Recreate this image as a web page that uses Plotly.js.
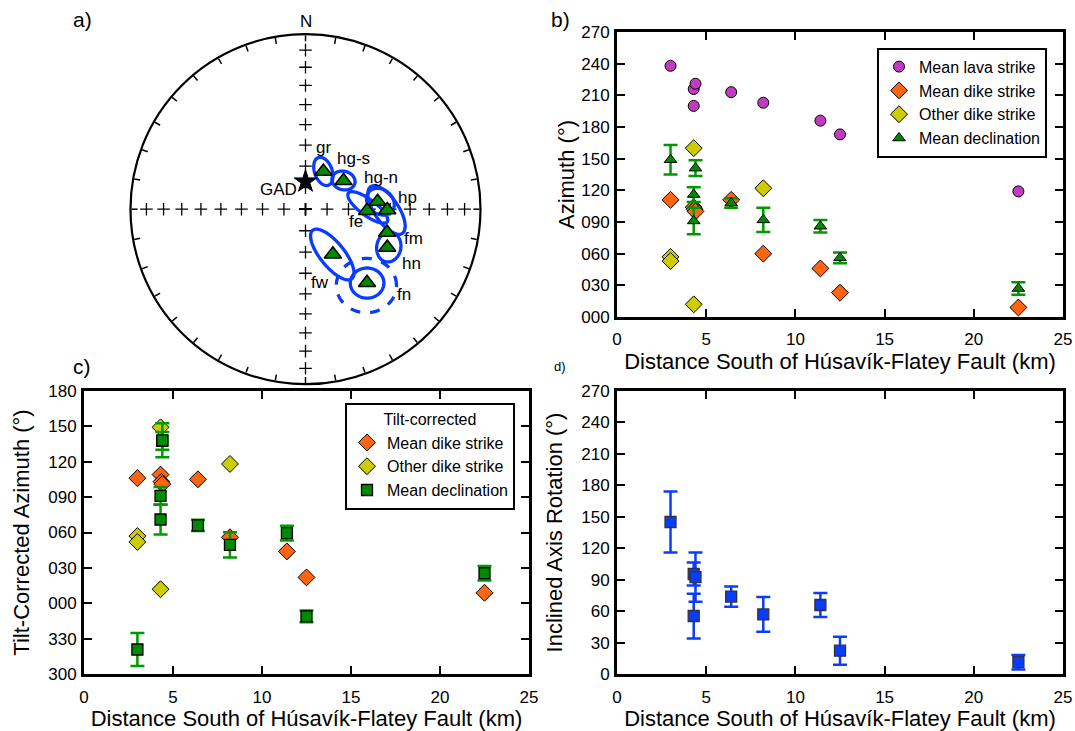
<!DOCTYPE html>
<html><head><meta charset="utf-8">
<script src="https://cdn.plot.ly/plotly-3.0.1.min.js"></script>
<style>html,body{margin:0;padding:0;background:#fff}#chart{width:1075px;height:731px}</style>
</head><body><div id="chart"></div>
<script>
// ===== Panel a: equal-area stereonet (declination / inclination in degrees)
const siteNames = ['gr','hg-s','hg-n','hp','fe','fm','hn','fw','fn'];
const siteDec = [25.4, 53.3, 84.0, 90.6, 91.4, 105.9, 115.1, 148.7, 140.1];
const siteInc = [70.6, 67.9, 55.9, 51.4, 61.2, 49.9, 47.2, 65.4, 44.4];
const gadDec = [0];
const gadInc = [77.2];
const gridInc = [10, 20, 30, 40, 50, 60, 70, 80, 90];
const gridDirs = [0, 90, 180, 270];
// confidence ellipses (projected units of net radius: east, north, semi-axes, rotation ccw from east)
const ellName = ['gr','hg-s','hg-n','hp','fe','hn','fw','fn','fn-dashed'];
const ellE = [0.102, 0.217, 0.428, 0.463, 0.356, 0.476, 0.153, 0.352, 0.348];
const ellN = [0.216, 0.164, 0.043, -0.005, 0.010, -0.216, -0.259, -0.422, -0.436];
const ellA = [0.084, 0.067, 0.086, 0.161, 0.138, 0.086, 0.178, 0.096, 0.172];
const ellB = [0.050, 0.053, 0.069, 0.069, 0.046, 0.069, 0.069, 0.086, 0.155];
const ellRot = [110, -15, -40, -56, -36.5, 80, -51, 0, 0];
const ellDashed = [false, false, false, false, false, false, false, false, true];

// ===== Panel b: azimuths vs distance (km)
const lavaX = [3.0, 4.3, 4.4, 4.3, 6.4, 8.2, 11.4, 12.5, 22.5];
const lavaY = [238, 216, 221, 200, 213, 203, 186, 173, 119];
const dikeX = [3.0, 4.3, 4.35, 4.4, 6.4, 8.2, 11.4, 12.5, 22.5];
const dikeY = [111, 104, 102, 100, 111, 60, 46, 23, 9];
const otherX = [3.0, 3.0, 4.3, 4.3, 8.2];
const otherY = [57, 53, 160, 12, 122];
const declX = [3.0, 4.3, 4.3, 4.4, 6.4, 8.2, 11.4, 12.5, 22.5];
const declY = [149, 116, 91, 141, 108, 92, 86, 56, 27];
const declErr = [14, 7, 12.5, 7.5, 4.5, 11.5, 6, 5, 6];

// ===== Panel c: tilt-corrected azimuths
const tcDikeX = [3.0, 4.3, 4.35, 4.4, 6.4, 8.2, 11.4, 12.5, 22.5];
const tcDikeY = [106, 109, 103, 101, 105, 56, 44, 22, 9];
const tcOtherX = [3.0, 3.0, 4.3, 4.3, 8.2];
const tcOtherY = [57, 52, 149, 12, 118];
const tcDeclX = [3.0, 4.3, 4.3, 4.4, 4.4, 6.4, 8.2, 11.4, 12.5, 22.5];
const tcDeclY = [321, 91, 71, 137.5, 138, 66, 49.5, 59.5, 349, 25.5];
const tcDeclErr = [14, 7.5, 12.7, 7.5, 14.4, 4.7, 10.7, 6.3, 5, 6.2];

// ===== Panel d: inclined axis rotation
const rotX = [3.0, 4.3, 4.4, 4.3, 6.4, 8.2, 11.4, 12.5, 22.5];
const rotY = [145, 95.5, 92.5, 55.5, 74, 57, 66, 22.5, 11.5];
const rotErr = [29, 11, 23.5, 21.3, 9.7, 16.5, 11.4, 13.3, 6.9];

// tick labels
const azTickVals = [0, 30, 60, 90, 120, 150, 180, 210, 240, 270];
const azTickText = ['000','030','060','090','120','150','180','210','240','270'];
const tcTickVals = [-60, -30, 0, 30, 60, 90, 120, 150, 180];
const tcTickText = ['300','330','000','030','060','090','120','150','180'];
const rotTickText = ['0','30','60','90','120','150','180','210','240','270'];
const xTickVals = [0, 5, 10, 15, 20, 25];

// ---------- helpers
const W = 1075, H = 731;
const FONT = 'Liberation Sans, Arial, sans-serif';
const px = v => v / W, py = v => 1 - v / H;
const eqArea = inc => Math.SQRT2 * Math.sin((90 - inc) / 2 * Math.PI / 180);
const wrap = v => (v > 180 ? v - 360 : v);
const BLUE = '#0a3cff';

const traces = [];

// stereonet grid crosses
const crossR = [], crossT = [];
gridDirs.forEach(d => gridInc.forEach(i => { crossR.push(eqArea(i)); crossT.push(d); }));
traces.push({type:'scatterpolar', subplot:'polar', r:crossR, theta:crossT, mode:'markers',
  marker:{symbol:'cross-thin-open', size:9, color:'black', line:{color:'black', width:1.3}},
  showlegend:false, hoverinfo:'skip'});

// ellipses
ellName.forEach((nm, k) => {
  const rr = [], tt = [];
  const c = Math.cos(ellRot[k] * Math.PI / 180), s = Math.sin(ellRot[k] * Math.PI / 180);
  for (let j = 0; j <= 120; j++) {
    const t = j / 120 * 2 * Math.PI;
    const u = ellA[k] * Math.cos(t), v = ellB[k] * Math.sin(t);
    const e = ellE[k] + u * c - v * s, n = ellN[k] + u * s + v * c;
    rr.push(Math.hypot(e, n));
    tt.push(Math.atan2(e, n) * 180 / Math.PI);
  }
  traces.push({type:'scatterpolar', subplot:'polar', r:rr, theta:tt, mode:'lines',
    line:{color:BLUE, width:3.3, dash: ellDashed[k] ? 'dash' : 'solid'},
    showlegend:false, hoverinfo:'skip', name:nm});
});

// site means
traces.push({type:'scatterpolar', subplot:'polar', r:siteInc.map(eqArea), theta:siteDec, mode:'markers',
  text:siteNames, marker:{symbol:'triangle-up', size:15, color:'#008a00', line:{color:'black', width:1.5}},
  showlegend:false});
traces.push({type:'scatterpolar', subplot:'polar', r:gadInc.map(eqArea), theta:gadDec, mode:'markers',
  marker:{symbol:'star', size:17, color:'black', line:{color:'black', width:1}}, showlegend:false});

// panel b
const mk = (sym, col, sz) => ({symbol:sym, size:sz, color:col, line:{color:'black', width:1}});
traces.push({type:'scatter', x:lavaX, y:lavaY, xaxis:'x', yaxis:'y', mode:'markers', name:'Mean lava strike',
  marker:mk('circle', '#c23cc2', 11), legend:'legend'});
traces.push({type:'scatter', x:dikeX, y:dikeY, xaxis:'x', yaxis:'y', mode:'markers', name:'Mean dike strike',
  marker:mk('diamond', '#ff6410', 13), legend:'legend'});
traces.push({type:'scatter', x:otherX, y:otherY, xaxis:'x', yaxis:'y', mode:'markers', name:'Other dike strike',
  marker:mk('diamond', '#cccc00', 13), legend:'legend'});
traces.push({type:'scatter', x:declX, y:declY, xaxis:'x', yaxis:'y', mode:'markers', name:'Mean declination',
  marker:mk('triangle-up', '#008a00', 11), legend:'legend',
  error_y:{type:'data', array:declErr, color:'#009900', thickness:2.5, width:7}});

// panel c
traces.push({type:'scatter', x:tcDikeX, y:tcDikeY.map(wrap), xaxis:'x2', yaxis:'y2', mode:'markers', name:'Mean dike strike',
  marker:mk('diamond', '#ff6410', 13), legend:'legend2'});
traces.push({type:'scatter', x:tcOtherX, y:tcOtherY.map(wrap), xaxis:'x2', yaxis:'y2', mode:'markers', name:'Other dike strike',
  marker:mk('diamond', '#cccc00', 13), legend:'legend2'});
traces.push({type:'scatter', x:tcDeclX, y:tcDeclY.map(wrap), xaxis:'x2', yaxis:'y2', mode:'markers', name:'Mean declination',
  marker:{symbol:'square', size:11, color:'#008a00', line:{color:'black', width:1.3}}, legend:'legend2',
  error_y:{type:'data', array:tcDeclErr, color:'#009900', thickness:2.5, width:7}});

// panel d
traces.push({type:'scatter', x:rotX, y:rotY, xaxis:'x3', yaxis:'y3', mode:'markers', showlegend:false,
  marker:{symbol:'square', size:11, color:BLUE, line:{color:'#333', width:1.3}},
  error_y:{type:'data', array:rotErr, color:BLUE, thickness:2.5, width:7}});

const tf = {family:FONT, size:17, color:'black'};
const baseAx = {showline:true, linecolor:'black', linewidth:3, mirror:'ticks', ticks:'inside', ticklen:8,
  tickwidth:2, tickcolor:'black', showgrid:false, zeroline:false, tickfont:tf, automargin:false, fixedrange:true};
const xAx = Object.assign({}, baseAx, {ticklabelstandoff:5});
const yAx = Object.assign({}, baseAx, {ticklabelstandoff:1});
const xTitle = 'Distance South of Húsavík-Flatey Fault (km)';
const titleFont = {family:FONT, size:22, color:'black'};
const legFont = {family:FONT, size:16, color:'black'};

const layout = {
  width:W, height:H, margin:{l:0, r:0, t:0, b:0}, paper_bgcolor:'white', plot_bgcolor:'white',
  font:{family:FONT, color:'black'},
  polar:{domain:{x:[px(130.5), px(480.5)], y:[py(384.2), py(34.2)]}, bgcolor:'white',
    radialaxis:{visible:false, range:[0, 1]},
    angularaxis:{rotation:90, direction:'clockwise', showgrid:false, showline:true, linecolor:'black', linewidth:2.2,
      ticks:'inside', ticklen:6, tickwidth:1.5, tickcolor:'black', dtick:10, showticklabels:false}},
  xaxis:Object.assign({}, xAx, {domain:[px(617), px(1063)], anchor:'y', range:[0, 25], tickvals:xTickVals,
    title:{text:xTitle, font:titleFont, standoff:3}}),
  yaxis:Object.assign({}, yAx, {domain:[py(317), py(32)], anchor:'x', range:[0, 270], tickvals:azTickVals, ticktext:azTickText,
    title:{text:'Azimuth (°)', font:titleFont, standoff:1}}),
  xaxis2:Object.assign({}, xAx, {domain:[px(84), px(529)], anchor:'y2', range:[0, 25], tickvals:xTickVals,
    title:{text:xTitle, font:titleFont, standoff:3}}),
  yaxis2:Object.assign({}, yAx, {domain:[py(674.3), py(390.7)], anchor:'x2', range:[-60, 180], tickvals:tcTickVals, ticktext:tcTickText,
    title:{text:'Tilt-Corrected Azimuth (°)', font:titleFont, standoff:13}}),
  xaxis3:Object.assign({}, xAx, {domain:[px(617), px(1063)], anchor:'y3', range:[0, 25], tickvals:xTickVals,
    title:{text:xTitle, font:titleFont, standoff:3}}),
  yaxis3:Object.assign({}, yAx, {domain:[py(674.3), py(390.7)], anchor:'x3', range:[0, 270], tickvals:azTickVals, ticktext:rotTickText,
    title:{text:'Inclined Axis Rotation (°)', font:titleFont, standoff:13}}),
  legend:{x:px(877), y:py(47.7), xanchor:'left', yanchor:'top', bordercolor:'black', borderwidth:2, bgcolor:'white',
    font:legFont, itemwidth:30, tracegroupgap:0},
  legend2:{x:px(345), y:py(402.7), xanchor:'left', yanchor:'top', bordercolor:'black', borderwidth:2, bgcolor:'white',
    font:legFont, itemwidth:30, title:{text:'Tilt-corrected', side:'top center', font:legFont}},
  annotations:[],
  showlegend:true
};

const ann = (t, x, y, size) => layout.annotations.push({text:t, x:px(x), y:py(y), xref:'paper', yref:'paper',
  showarrow:false, xanchor:'center', yanchor:'middle', font:{family:FONT, size:size, color:'black'}});
ann('a)', 83, 20, 21); ann('b)', 560, 19, 21); ann('c)', 82, 367, 21); ann('d)', 560, 367, 13);
ann('N', 305.5, 21.5, 17);
const labelPos = {'gr':[323,147], 'hg-s':[353,159], 'hg-n':[381,177], 'hp':[407,197], 'fe':[356,221],
  'fm':[413,238], 'hn':[411,263], 'fw':[320,282], 'fn':[404,294], 'GAD':[278,189]};
Object.keys(labelPos).forEach(k => ann(k, labelPos[k][0], labelPos[k][1], 17));

Plotly.newPlot('chart', traces, layout, {staticPlot:true});
</script></body></html>
